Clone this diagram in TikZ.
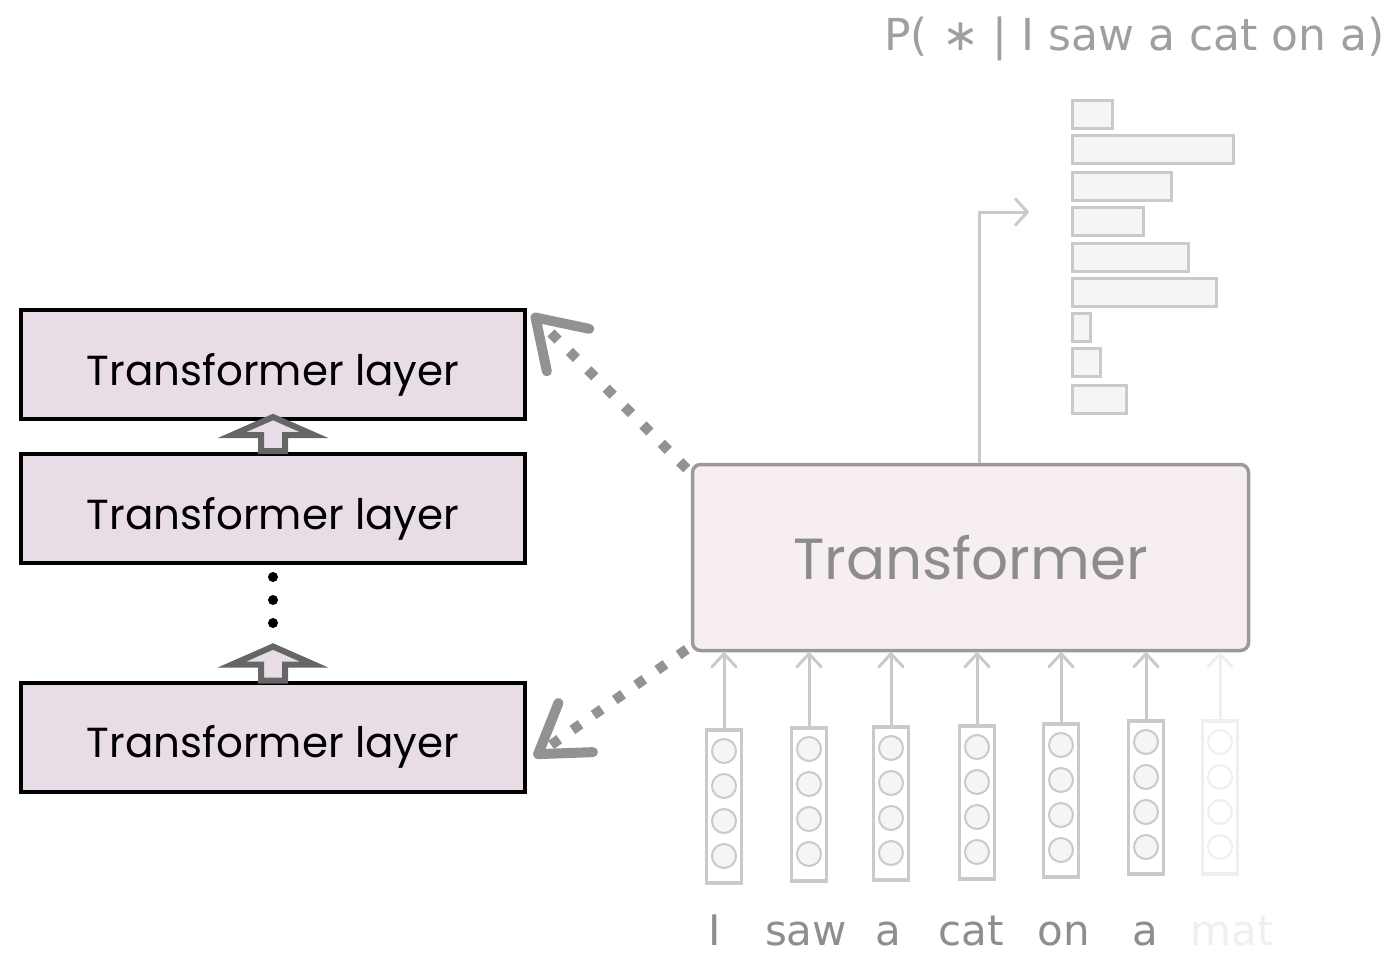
\documentclass[tikz,border=0pt]{standalone}
\usepackage{fontspec}
\setmainfont{Poppins}
\newfontfamily\tokenfont{DejaVu Sans}
\usetikzlibrary{arrows.meta,calc}

\definecolor{layerfill}{HTML}{E8DCE6}
\definecolor{blockgray}{HTML}{666666}
\definecolor{linkgray}{HTML}{929292}
\definecolor{tfborder}{HTML}{9A9A9A}
\definecolor{tffill}{HTML}{F7EEF3}
\definecolor{tftext}{HTML}{8C8C8C}
\definecolor{fadeline}{HTML}{CACACA}
\definecolor{fadefill}{HTML}{F5F5F5}
\definecolor{wordgray}{HTML}{8E8E8E}
\definecolor{ghost}{HTML}{EFEFEF}

\tikzset{
  layerbox/.style={draw=black, line width=4pt, fill=layerfill,
    minimum width=504pt, minimum height=109pt, inner sep=0pt,
    text height=44pt, text depth=2.5pt,
    font=\fontsize{42}{46}\selectfont},
  tfbox/.style={draw=tfborder, line width=3.5pt, fill=tffill, rounded corners=8pt,
    minimum width=556pt, minimum height=186pt, inner sep=0pt,
    text=tftext, font=\fontsize{58}{62}\selectfont},
  stackdot/.style={circle, fill=black, inner sep=0pt, minimum size=10pt},
  linkarrow/.style={draw=linkgray, line width=10pt, dash pattern=on 10pt off 16pt,
    -{Straight Barb[length=46pt, width=60pt, line width=10pt, round]}},
  pics/uparrow/.style={code={
    \draw[line width=6pt, draw=blockgray, fill=layerfill, miter limit=10]
      (0,0) -- (41,18) -- (12,18) -- (12,34) -- (-12,34) -- (-12,18) -- (-41,18) -- cycle;}},
  colbox/.style={draw=#1, line width=3.5pt, fill=white, minimum width=35pt,
    minimum height=153pt, inner sep=0pt},
  cell/.style={circle, draw=#1, line width=2pt, fill=fadefill, minimum size=24pt, inner sep=0pt},
  inarrow/.style={draw=#1, line width=3pt,
    -{Straight Barb[length=13pt, width=24pt, line width=3pt, round]}},
  word/.style={text=#1, font=\tokenfont\fontsize{42}{46}\selectfont, inner sep=0pt},
  bar/.style={draw=fadeline, line width=3pt, fill=fadefill},
  outarrow/.style={draw=fadeline, line width=3pt,
    -{Straight Barb[length=12pt, width=26pt, line width=3pt, round]}},
}

\begin{document}
\begin{tikzpicture}[x=1pt, y=-1pt]
\useasboundingbox (0,0) rectangle (1399,953);

% ---- stack of layers ----
\node[layerbox] (l1) at (273,364.5) {Transformer layer};
\node[layerbox] (l2) at (273,508.5) {Transformer layer};
\node[layerbox] (l3) at (273,737)   {Transformer layer};

\pic at ($(l2.north)+(0,-35)$) {uparrow};
\pic at ($(l3.north)+(0,-34)$) {uparrow};

\node[stackdot] (d1) at (273,577) {};
\node[stackdot] (d2) at (273,600) {};
\node[stackdot] (d3) at (273,623) {};

% ---- the transformer block ----
\node[tfbox] (tf) at (970.5,557.5) {Transformer};

\draw[linkarrow] ($(tf.north west)+(-4,6)$) -- ($(l1.north east)+(5,6)$);
\draw[linkarrow] ($(tf.south west)+(-4,-3)$) -- ($(l3.east)+(7,20)$);

% ---- output distribution ----
\coordinate (pout) at (1029,212);
\draw[outarrow] ($(tf.north west)+(289,0)$) |- (pout);

\foreach \y/\len in {100/40, 135/161, 172/99, 207/71, 243/116, 278/144, 313/18, 348/28, 385/54}
  \draw[bar] (1072,\y) rectangle ++(\len,28);

\node[anchor=base east, inner sep=0pt, text=gray!75, font=\tokenfont\fontsize{44}{48}\selectfont]
  (prob) at (1385,50) {P( ∗ | I saw a cat on a)};

% ---- input tokens ----
\foreach \n/\px/\py/\w/\c in {1/724/728/I/fadeline, 2/809/726/saw/fadeline,
    3/891/725/a/fadeline, 4/977/724/cat/fadeline, 5/1061/722/on/fadeline,
    6/1146/719/a/fadeline}{
  \node[colbox=\c, anchor=north] (c\n) at (\px,\py) {};
  \foreach \k in {1,...,4}
    \node[cell=\c] at ($(c\n.north)+(0,{23+35*(\k-1)})$) {};
  \draw[inarrow=\c] (c\n.north) -- (c\n.north |- tf.south);
}
\foreach \n/\px/\w in {1/715/I, 2/806/saw, 3/888/a, 4/971/cat, 5/1064/on, 6/1145/a}
  \node[word=wordgray, anchor=base] (w\n) at (\px,945) {\w};

\node[colbox=ghost, anchor=north] (c7) at (1220,719) {};
\foreach \k in {1,...,4}
  \node[cell=ghost, fill=white] at ($(c7.north)+(0,{23+35*(\k-1)})$) {};
\draw[inarrow=ghost] (c7.north) -- (c7.north |- tf.south);
\node[word=ghost, anchor=base] (w7) at (1232,945) {mat};
\end{tikzpicture}
\end{document}
